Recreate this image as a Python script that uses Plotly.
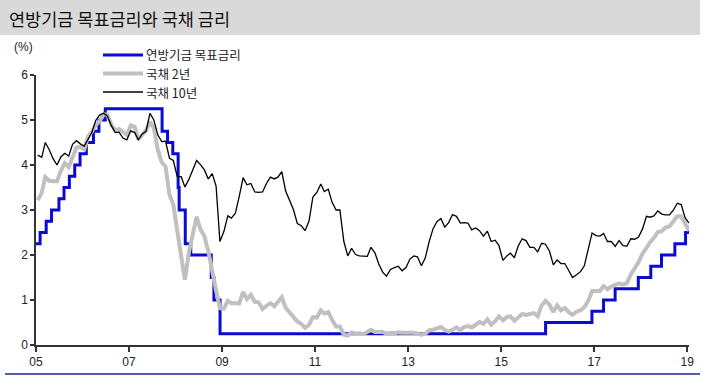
import pandas as pd
import plotly.graph_objects as go

# ---- Data ----
fed_dates = ["2005-01-01", "2005-02-02", "2005-03-22", "2005-05-03", "2005-06-30", "2005-08-09",
             "2005-09-20", "2005-11-01", "2005-12-13", "2006-01-31", "2006-03-28", "2006-05-10",
             "2006-06-29", "2007-09-18", "2007-10-31", "2007-12-11", "2008-01-22", "2008-01-30",
             "2008-03-18", "2008-04-30", "2008-10-08", "2008-10-29", "2008-12-16", "2015-12-16",
             "2016-12-14", "2017-03-15", "2017-06-14", "2017-12-13", "2018-03-21", "2018-06-13",
             "2018-09-26", "2018-12-19", "2019-01-31"]
fed_rate = [2.25, 2.5, 2.75, 3.0, 3.25, 3.5, 3.75, 4.0, 4.25, 4.5, 4.75, 5.0,
            5.25, 4.75, 4.5, 4.25, 3.5, 3.0, 2.25, 2.0, 1.5, 1.0, 0.25, 0.5,
            0.75, 1.0, 1.25, 1.5, 1.75, 2.0, 2.25, 2.5, 2.5]

# monthly values, Jan 2005 .. Jan 2019
ust2y = [3.22, 3.38, 3.73, 3.65, 3.64, 3.64, 3.87, 4.04, 3.95, 4.17, 4.39, 4.40,
         4.35, 4.64, 4.74, 4.89, 4.97, 5.12, 5.12, 4.90, 4.77, 4.80, 4.74, 4.67,
         4.88, 4.85, 4.57, 4.67, 4.77, 4.96, 4.82, 4.34, 4.06, 3.97, 3.34, 3.12,
         2.48, 1.97, 1.45, 2.05, 2.45, 2.85, 2.57, 2.42, 2.08, 1.61, 1.21, 0.82,
         0.81, 0.98, 0.93, 0.93, 0.92, 1.18, 1.02, 1.12, 0.96, 0.95, 0.80, 0.87,
         0.93, 0.86, 0.96, 1.06, 0.83, 0.72, 0.62, 0.52, 0.47, 0.38, 0.45, 0.62,
         0.61, 0.77, 0.70, 0.73, 0.56, 0.41, 0.41, 0.23, 0.21, 0.28, 0.25, 0.26,
         0.24, 0.28, 0.34, 0.29, 0.29, 0.29, 0.25, 0.27, 0.26, 0.28, 0.27, 0.26,
         0.27, 0.27, 0.26, 0.23, 0.25, 0.33, 0.34, 0.36, 0.40, 0.34, 0.30, 0.34,
         0.39, 0.33, 0.40, 0.42, 0.39, 0.45, 0.51, 0.47, 0.57, 0.45, 0.53, 0.64,
         0.55, 0.62, 0.64, 0.54, 0.61, 0.69, 0.67, 0.70, 0.71, 0.64, 0.88, 0.98,
         0.90, 0.73, 0.88, 0.77, 0.82, 0.73, 0.67, 0.74, 0.77, 0.84, 0.98, 1.20,
         1.21, 1.20, 1.31, 1.24, 1.30, 1.34, 1.37, 1.34, 1.38, 1.57, 1.70, 1.84,
         2.03, 2.18, 2.28, 2.38, 2.51, 2.53, 2.61, 2.64, 2.77, 2.86, 2.86, 2.68,
         2.54]
ust10y = [4.22, 4.17, 4.50, 4.34, 4.14, 4.00, 4.18, 4.26, 4.20, 4.46, 4.54, 4.47,
          4.42, 4.57, 4.72, 4.99, 5.11, 5.15, 5.09, 4.88, 4.72, 4.73, 4.60, 4.56,
          4.76, 4.72, 4.56, 4.69, 4.75, 5.15, 5.00, 4.67, 4.52, 4.53, 4.15, 4.10,
          3.74, 3.74, 3.51, 3.68, 3.88, 4.10, 4.01, 3.89, 3.69, 3.81, 3.53, 2.30,
          2.52, 2.87, 2.82, 2.93, 3.29, 3.72, 3.56, 3.59, 3.40, 3.39, 3.40, 3.59,
          3.73, 3.69, 3.73, 3.85, 3.42, 3.20, 3.01, 2.70, 2.65, 2.54, 2.76, 3.29,
          3.39, 3.58, 3.41, 3.46, 3.17, 3.00, 3.00, 2.30, 1.98, 2.15, 2.01, 1.98,
          1.97, 1.97, 2.17, 2.05, 1.80, 1.62, 1.53, 1.68, 1.72, 1.75, 1.65, 1.72,
          1.91, 1.98, 1.96, 1.76, 1.93, 2.30, 2.58, 2.74, 2.81, 2.62, 2.72, 2.90,
          2.86, 2.71, 2.72, 2.71, 2.56, 2.60, 2.54, 2.42, 2.53, 2.30, 2.33, 2.21,
          1.88, 1.98, 2.04, 1.94, 2.20, 2.36, 2.32, 2.17, 2.17, 2.07, 2.26, 2.24,
          2.09, 1.78, 1.89, 1.81, 1.81, 1.64, 1.50, 1.56, 1.63, 1.76, 2.14, 2.49,
          2.43, 2.42, 2.48, 2.30, 2.30, 2.19, 2.32, 2.21, 2.20, 2.36, 2.35, 2.40,
          2.58, 2.86, 2.84, 2.87, 2.98, 2.91, 2.89, 2.89, 3.00, 3.15, 3.12, 2.83,
          2.71]

series_names = ["연방기금 목표금리", "국채 2년", "국채 10년"]
tick_vals = ["2005-01-01", "2007-01-01", "2009-01-01", "2011-01-01", "2013-01-01",
             "2015-01-01", "2017-01-01", "2019-01-01"]
tick_text = ["05", "07", "09", "11", "13", "15", "17", "19"]

month_dates = pd.date_range("2005-01-01", periods=len(ust2y), freq="MS") + pd.Timedelta(days=14)

KR = "Noto Sans CJK KR"
NUM = "Liberation Sans, Arial, sans-serif"
W, H = 704, 376
L, R, T, B = 36, 15, 75, 31
PW, PH = W - L - R, H - T - B


def px(x):
    return (x - L) / PW


def py(y):
    return (H - B - y) / PH


styles = [dict(color="#0a0ad2", width=3), dict(color="#c0c0c0", width=4),
          dict(color="#000000", width=1.3)]

fig = go.Figure()
fig.add_trace(go.Scatter(x=fed_dates, y=fed_rate, mode="lines", line_shape="hv",
                         name=series_names[0], line=styles[0]))
fig.add_trace(go.Scatter(x=month_dates, y=ust2y, mode="lines",
                         name=series_names[1], line=styles[1]))
fig.add_trace(go.Scatter(x=month_dates, y=ust10y, mode="lines",
                         name=series_names[2], line=styles[2]))

shapes = [
    dict(type="rect", xref="paper", yref="paper", x0=px(0), x1=px(700),
         y0=py(35), y1=py(0), fillcolor="#d9d9d9", line=dict(width=0), layer="below"),
    dict(type="line", xref="paper", yref="paper", x0=px(5), x1=px(700),
         y0=py(374), y1=py(374), line=dict(color="#1c2a8a", width=1.5)),
]
annotations = [
    dict(text="연방기금 목표금리와 국채 금리", xref="paper", yref="paper",
         x=px(7), y=py(18), xanchor="left", yanchor="middle", showarrow=False,
         font=dict(family=KR, size=17.5, color="#111")),
    dict(text="(%)", xref="paper", yref="paper",
         x=px(12), y=py(47), xanchor="left", yanchor="middle", showarrow=False,
         font=dict(family=NUM, size=12, color="#222")),
]
# manual legend
for i, (name, st) in enumerate(zip(series_names, styles)):
    yy = 55 + i * 18.5
    shapes.append(dict(type="line", xref="paper", yref="paper", x0=px(103), x1=px(143),
                       y0=py(yy), y1=py(yy), line=st))
    annotations.append(dict(text=name, xref="paper", yref="paper", x=px(145), y=py(yy),
                            xanchor="left", yanchor="middle", showarrow=False, borderpad=0,
                            font=dict(family=KR, size=12.5, color="#222")))

fig.update_layout(
    width=W, height=H,
    margin=dict(l=L, r=R, t=T, b=B, autoexpand=False),
    paper_bgcolor="white", plot_bgcolor="white",
    showlegend=False,
    xaxis=dict(type="date", range=["2005-01-01", "2019-01-15"], automargin=False,
               tickvals=tick_vals, ticktext=tick_text,
               showline=True, linecolor="#333", linewidth=1.5,
               ticks="outside", ticklen=5, tickcolor="#333", tickwidth=1.5,
               showgrid=False, zeroline=False,
               tickfont=dict(family=NUM, size=12, color="#222")),
    yaxis=dict(range=[0, 6], tickvals=[0, 1, 2, 3, 4, 5, 6], automargin=False,
               showline=True, linecolor="#333", linewidth=1.5,
               ticks="outside", ticklen=4, tickcolor="#333", tickwidth=1.5,
               showgrid=False, zeroline=False,
               tickfont=dict(family=NUM, size=12, color="#222")),
    shapes=shapes,
    annotations=annotations,
)

fig.write_html("out.html", config={"displayModeBar": False},
               post_script="document.body.style.margin='0';document.body.style.overflow='hidden';")
